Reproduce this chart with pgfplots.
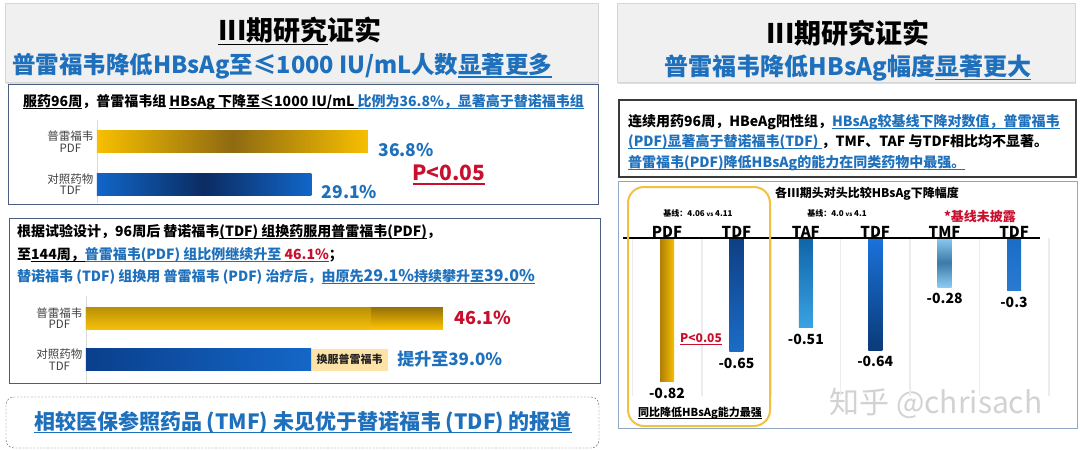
\documentclass[border=0pt]{standalone}
\usepackage{pgfplots}
\pgfplotsset{compat=1.18}
\usepackage{fontspec}
\setmainfont{Noto Sans CJK SC}
\usetikzlibrary{shadows}
\definecolor{tblue}{HTML}{1E70BC}
\definecolor{tred}{HTML}{C8102E}
\definecolor{hdr}{HTML}{F0F0F0}
\definecolor{hdrline}{HTML}{D6D6D6}
\definecolor{boxline}{HTML}{4A5E80}
\definecolor{chartbox}{HTML}{8FA6C4}
\definecolor{darkbox}{HTML}{3A3A3A}
\definecolor{goldA}{HTML}{F7BF00}
\definecolor{goldB}{HTML}{8E6A12}
\definecolor{blueA}{HTML}{1166C8}
\definecolor{blueB}{HTML}{0B2C62}
\definecolor{orangebox}{HTML}{F2C141}
\definecolor{peach}{HTML}{FDE3A7}
\definecolor{gsTwoTop}{HTML}{94700A}
\definecolor{gsTwoBot}{HTML}{FDC300}
\definecolor{gsOneTop}{HTML}{B89005}
\definecolor{gsOneBot}{HTML}{F5BF0A}
\definecolor{tdfL}{HTML}{0A3F8C}
\definecolor{tdfR}{HTML}{1467C8}
\definecolor{pdfL}{HTML}{B07E08}
\definecolor{pdfR}{HTML}{F5BE00}
\definecolor{tdAT}{HTML}{0E3F84}
\definecolor{tdAB}{HTML}{1B6CC8}
\definecolor{tafT}{HTML}{0F65A8}
\definecolor{tafB}{HTML}{3AA2E2}
\definecolor{tdBT}{HTML}{1A72DA}
\definecolor{tdBB}{HTML}{0B3A78}
\definecolor{tmfE}{HTML}{8CCBF0}
\definecolor{tmfM}{HTML}{3B79A8}
\definecolor{tdCT}{HTML}{1A6CC6}
\definecolor{tdCB}{HTML}{2A7AD0}
\newcommand{\fs}[1]{\fontsize{#1}{#1}\selectfont}
\newcommand{\ul}[1]{\leavevmode\setbox0=\hbox{#1}\rlap{\rule[-0.2em]{\wd0}{0.07em}}\box0}
\begin{document}
\begin{tikzpicture}
\begin{scope}[x=1pt,y=-1pt]
\fill[white] (0,0) rectangle (1080,450);
\useasboundingbox (0,0) rectangle (1080,450);
% ---------- left header
\draw[fill=hdr, draw=hdrline, drop shadow={shadow xshift=1pt, shadow yshift=-2pt, opacity=0.25}] (5,3) rectangle (598,82);
\node[font=\fs{27}\bfseries] at (300,31) {\ul{III期研究}证实};
\node[font=\fs{23.5}\bfseries, text=tblue, anchor=west, inner sep=0] at (12,66) {普雷福韦降低HBsAg至≤1000 IU/mL人数\ul{显著更多}};
% box 1
\draw[boxline, line width=1pt, fill=white] (8,84) rectangle (598,204);
\node[anchor=west, inner sep=0, font=\fs{14}\bfseries] at (23,102) {\ul{服药96周}，普雷福韦组 \ul{HBsAg 下降至≤1000 IU/mL }{\color{tblue}\ul{比例为36.8\%，显著高于替诺福韦组}}};
\node[font=\fs{21}\bfseries, text=tred] at (449,175) {\ul{P<0.05}};
\coordinate (c1) at (97,203);
% box 2
\draw[boxline, line width=1pt] (9,218) rectangle (600,383);
\node[anchor=west, inner sep=0, font=\fs{14}\bfseries] at (17,232) {根据试验设计，96周后 替诺福韦\ul{(TDF) 组换药服用普雷福韦(PDF)}，};
\node[anchor=west, inner sep=0, font=\fs{14}\bfseries] at (17,255) {至\ul{144周，}{\color{tblue}\ul{普雷福韦(PDF) 组比例继续升至 }}{\color{tred}\ul{46.1\%}}；};
\node[anchor=west, inner sep=0, font=\fs{14}\bfseries, text=tblue] at (17,277) {替诺福韦 (TDF) 组换用 普雷福韦 (PDF) 治疗后，\ul{由原先{\fs{16}29.1\%}持续攀升至{\fs{16}39.0\%}}};
\coordinate (c2) at (86,383);
% bottom dashed box
\draw[boxline, dash pattern=on 2pt off 1.5pt, rounded corners=8pt] (6,397) rectangle (599,448);
\node[font=\fs{21}\bfseries, text=tblue] at (303,422) {\ul{相较医保参照药品 (TMF) 未见优于替诺福韦 (TDF) 的报道}};
% ---------- right header
\draw[fill=hdr, draw=hdrline, drop shadow={shadow xshift=1pt, shadow yshift=-2pt, opacity=0.25}] (617,3) rectangle (1075,82);
\node[font=\fs{27}\bfseries] at (848,33) {III期研究证实};
\node[font=\fs{24}\bfseries, text=tblue] at (848,68) {普雷福韦降低HBsAg幅度\ul{显著更大}};
\draw[darkbox, line width=1.6pt] (619,100) rectangle (1076,177);
\node[anchor=west, inner sep=0, font=\fs{14}\bfseries] at (628,122) {连续用药96周，HBeAg阳性组，{\color{tblue}\ul{HBsAg较基线下降对数值，普雷福韦}}};
\node[anchor=west, inner sep=0, font=\fs{14}\bfseries] at (628,142) {{\color{tblue}\ul{(PDF)显著高于替诺福韦(TDF) }}，TMF、TAF 与TDF相比均不显著。};
\node[anchor=west, inner sep=0, font=\fs{14}\bfseries] at (628,163) {{\color{tblue}\ul{普雷福韦(PDF)降低HBsAg的能力在同类药物中最强。}}};
\draw[chartbox, line width=1pt] (618,181) rectangle (1077,428);
\node[font=\fs{12}\bfseries] at (867,194) {各III期头对头比较HBsAg下降幅度};
\node[font=\fs{30}, text=gray!35] at (936,403) {知乎 @chrisach};
\coordinate (c3) at (615,395.5);
\end{scope}

% ---------- chart 1
\begin{axis}[at={(c1)}, anchor=south west, scale only axis,
  width=441.8pt, height=83pt, xmin=0, xmax=60, ymin=-0.447, ymax=1.506,
  axis x line=none, axis y line=left,
  axis line style={-, draw=gray!30, line width=0.8pt},
  ytick={0,1}, yticklabels={{对照药物\\TDF},{普雷福韦\\PDF}},
  yticklabel style={align=center, font=\fs{11.5}, text=black!75},
  major tick length=0, clip=false,
  /pgf/number format/assume math mode=true]
\addplot[xbar, bar shift=0pt, bar width=22pt, draw=none, left color=goldA, right color=goldA, middle color=goldB] coordinates {(36.8,1)};
\addplot[xbar, bar shift=0pt, bar width=22pt, draw=none, left color=blueA, right color=blueA, middle color=blueB] coordinates {(29.1,0)};
\addplot[draw=none, mark=none, point meta=x,
  nodes near coords={\pgfmathprintnumber[fixed,fixed zerofill,precision=1]{\pgfplotspointmeta}\%},
  every node near coord/.append style={anchor=west, font=\fs{17.5}\bfseries, text=tblue, xshift=7pt, yshift=-8pt}]
  coordinates {(36.8,1) (29.1,0)};
\end{axis}

% ---------- chart 2
\begin{axis}[at={(c2)}, anchor=south west, scale only axis,
  width=464.4pt, height=87pt, xmin=0, xmax=60, ymin=-0.566, ymax=1.53,
  axis x line=none, axis y line=left,
  axis line style={-, draw=gray!30, line width=0.8pt},
  ytick={0,1}, yticklabels={{对照药物\\TDF},{普雷福韦\\PDF}},
  yticklabel style={align=center, font=\fs{11.5}, text=black!75},
  major tick length=0, clip=false,
  /pgf/number format/assume math mode=true]
\addplot[xbar, bar shift=0pt, bar width=22pt, draw=none, top color=gsTwoTop, bottom color=gsTwoBot] coordinates {(46.1,1)};
\addplot[xbar, bar shift=0pt, bar width=22pt, draw=none, top color=gsOneTop, bottom color=gsOneBot] coordinates {(36.8,1)};
\addplot[xbar, bar shift=0pt, bar width=22pt, draw=none, fill=peach] coordinates {(39.0,0)};
\addplot[xbar, bar shift=0pt, bar width=22pt, draw=none, left color=tdfL, right color=tdfR] coordinates {(29.1,0)};
\node[font=\fs{11}\bfseries, text=black!85] at (axis cs:34.05,0) {换服普雷福韦};
\node[anchor=west, font=\fs{18}\bfseries, text=tred, xshift=8pt] at (axis cs:46.1,1) {46.1\%};
\node[anchor=west, font=\fs{17}\bfseries, text=tblue, xshift=6pt] at (axis cs:39.0,0) {提升至39.0\%};
\end{axis}

% ---------- chart 3
\begin{axis}[at={(c3)}, anchor=south west, scale only axis,
  width=451.1pt, height=157.5pt, xmin=-0.75, xmax=5.75, ymin=-0.9, ymax=0,
  axis line style={draw=none}, ytick=\empty,
  xtick={0,1,2,3,4,5}, xticklabels={PDF,TDF,TAF,TDF,TMF,TDF},
  xticklabel pos=upper,
  xticklabel style={font=\fs{15}\bfseries, yshift=-3pt},
  minor xtick={-0.5,0.5,1.5,2.5,3.5,4.5,5.5}, xminorgrids=true,
  minor grid style={draw=gray!15, line width=1.6pt},
  major tick length=0, minor tick length=0, clip=false,
  /pgf/number format/assume math mode=true]
\addplot[ybar, bar shift=0pt, bar width=14pt, draw=none, left color=pdfL, right color=pdfR] coordinates {(0,-0.82)};
\addplot[ybar, bar shift=0pt, bar width=14pt, draw=none, top color=tdAT, bottom color=tdAB] coordinates {(1,-0.65)};
\addplot[ybar, bar shift=0pt, bar width=14pt, draw=none, top color=tafT, bottom color=tafB] coordinates {(2,-0.51)};
\addplot[ybar, bar shift=0pt, bar width=14pt, draw=none, top color=tdBT, bottom color=tdBB] coordinates {(3,-0.64)};
\addplot[ybar, bar shift=0pt, bar width=14pt, draw=none, top color=tmfE, bottom color=tmfE, middle color=tmfM] coordinates {(4,-0.28)};
\addplot[ybar, bar shift=0pt, bar width=14pt, draw=none, top color=tdCT, bottom color=tdCB] coordinates {(5,-0.3)};
\addplot[draw=none, mark=none, point meta=y, nodes near coords,
  every node near coord/.append style={anchor=north, font=\fs{14}\bfseries, text=black, yshift=-3pt}]
  coordinates {(0,-0.82) (1,-0.65) (2,-0.51) (3,-0.64) (4,-0.28) (5,-0.3)};
\draw[black, line width=1.5pt] (axis cs:-0.634,0) -- (axis cs:5.375,0);
\end{axis}

\begin{scope}[x=1pt,y=-1pt]
\draw[orangebox, line width=2pt, rounded corners=16pt] (628,187) rectangle (770,426);
\node[font=\fs{8}\bfseries] at (698,213) {基线：4.06 {\fs{6}vs} 4.11};
\node[font=\fs{8}\bfseries] at (837,213) {基线：4.0 {\fs{6}vs} 4.1};
\node[font=\fs{13}\bfseries, text=tred] at (980,217) {*基线未披露};
\node[font=\fs{12}\bfseries, text=tred] at (701,339) {\ul{P<0.05}};
\node[font=\fs{11}\bfseries] at (700,413) {\ul{同比降低HBsAg能力最强}};
\end{scope}
\end{tikzpicture}
\end{document}
